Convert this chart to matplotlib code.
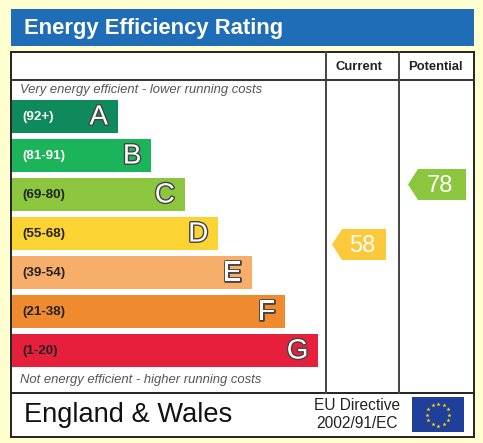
"""Energy Efficiency Rating (EPC) chart, England & Wales."""

import matplotlib
matplotlib.use('Agg')
import matplotlib.pyplot as plt
import matplotlib.patheffects as pe
from matplotlib.patches import Rectangle, Polygon
import numpy as np

# data
band_letters = ['A', 'B', 'C', 'D', 'E', 'F', 'G']
band_ranges = ['(92+)', '(81-91)', '(69-80)', '(55-68)', '(39-54)', '(21-38)', '(1-20)']
band_colors = ['#0f8a5c', '#1cb45a', '#8cc63f', '#fbd333', '#f7ae6a', '#f08a2e', '#e6203c']
current_rating = 58
potential_rating = 78
top_note = 'Very energy efficient - lower running costs'
bottom_note = 'Not energy efficient - higher running costs'

W, H = 483, 443
BG = '#ffffcf'
FONT = 'Liberation Sans'


def rating_y(r):
    # vertical centre of an arrow for a given score (3 px per point)
    return 418.5 - 3.0 * r


def arrow(ax, x_tip, yc, width, color, text):
    h = 31
    tip = 10
    pts = [(x_tip, yc), (x_tip + tip, yc - h / 2), (x_tip + width, yc - h / 2),
           (x_tip + width, yc + h / 2), (x_tip + tip, yc + h / 2)]
    ax.add_patch(Polygon(pts, closed=True, facecolor=color, edgecolor='none', zorder=3))
    ax.text(x_tip + width / 2 + 3, yc + 1, text, color='white', fontsize=17,
            ha='center', va='center', family=FONT, zorder=4)


def main():
    fig = plt.figure(figsize=(W / 100, H / 100), dpi=100)
    fig.patch.set_facecolor(BG)
    ax = fig.add_axes([0, 0, 1, 1])
    ax.set_xlim(0, W)
    ax.set_ylim(H, 0)
    ax.axis('off')

    # title bar
    ax.add_patch(Rectangle((11, 9), 463, 37, facecolor='#1f6db6', edgecolor='none'))
    ax.text(24, 28.5, 'Energy Efficiency Rating', color='white', fontsize=15.8,
            fontweight='bold', ha='left', va='center', family=FONT)

    # main box
    lw = 1.4
    ax.add_patch(Rectangle((11, 52), 463, 385, facecolor='white', edgecolor='#222222', lw=lw, zorder=1))
    ax.plot([11, 474], [80, 80], color='#333333', lw=lw, zorder=2)
    ax.plot([11, 474], [393, 393], color='#222222', lw=lw, zorder=2)
    ax.plot([326, 326], [52, 393], color='#444444', lw=lw, zorder=2)
    ax.plot([399, 399], [52, 393], color='#444444', lw=lw, zorder=2)

    ax.text(359, 67, 'Current', fontsize=9.4, fontweight='bold', ha='center', va='center',
            family=FONT, color='#222222')
    ax.text(435, 67, 'Potential', fontsize=9.4, fontweight='bold', ha='center', va='center',
            family=FONT, color='#222222')

    ax.text(20, 90, top_note, fontsize=9.4, style='italic', color='#555555',
            ha='left', va='center', family=FONT)
    ax.text(20, 380, bottom_note, fontsize=9.4, style='italic', color='#555555',
            ha='left', va='center', family=FONT)

    # bands
    for i, (letter, rng, col) in enumerate(zip(band_letters, band_ranges, band_colors)):
        y0 = 100 + i * 39
        x1 = 118 + i * 33.4
        ax.add_patch(Rectangle((12, y0), x1 - 12, 33, facecolor=col, edgecolor='none', zorder=3))
        ax.text(22, y0 + 17, rng, fontsize=9.6, fontweight='bold', ha='left', va='center',
                color='white' if i < 2 else '#222222', family=FONT, zorder=4)
        t = ax.text(x1 - 10, y0 + 17.5, letter, fontsize=20, ha='right', va='center',
                    color='white', family=FONT, zorder=4)
        t.set_path_effects([pe.Stroke(linewidth=2.0, foreground='#444444'), pe.Normal()])

    arrow(ax, 332, rating_y(current_rating), 54, '#fcc93a', str(current_rating))
    arrow(ax, 408, rating_y(potential_rating), 58, '#8cc63f', str(potential_rating))

    # footer
    ax.text(24, 415, 'England & Wales', fontsize=19.6, ha='left', va='center',
            family=FONT, color='#111111')
    ax.text(357, 406, 'EU Directive', fontsize=11.2, ha='center', va='center',
            family=FONT, color='#222222')
    ax.text(357, 424, '2002/91/EC', fontsize=11.2, ha='center', va='center',
            family=FONT, color='#222222')

    # EU flag
    ax.add_patch(Rectangle((412, 397), 52, 35, facecolor='#1f3f9a', edgecolor='none', zorder=3))
    ang = np.linspace(0, 2 * np.pi, 13)[:-1]
    ax.scatter(438 + 11 * np.cos(ang), 414.5 + 11 * np.sin(ang), s=10, marker='*',
               color='#ffdd00', zorder=4, linewidths=0)

    plt.savefig('out.png', dpi=100, facecolor=BG)


if __name__ == '__main__':
    main()
